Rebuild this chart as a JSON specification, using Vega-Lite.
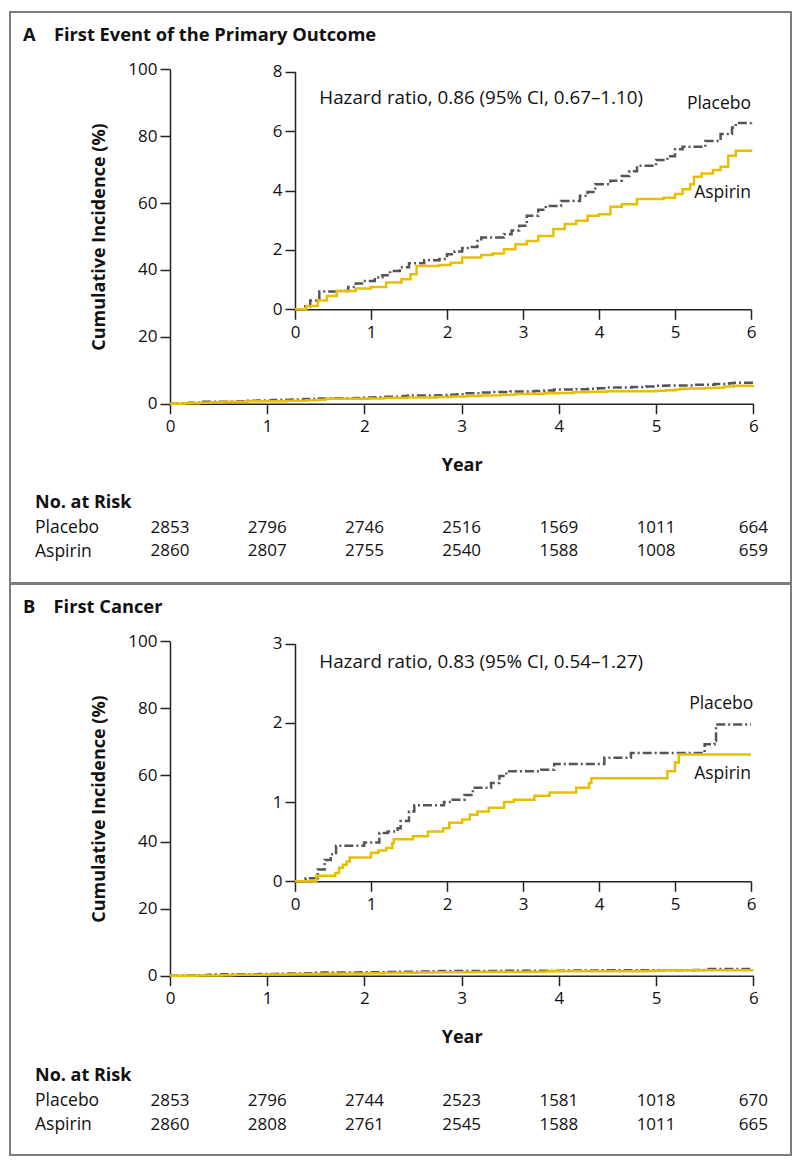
{
  "$schema": "https://vega.github.io/schema/vega-lite/v6.json",
  "background": "white",
  "padding": {"left": 9, "top": 11, "right": 0, "bottom": 0},
  "spacing": -2,
  "datasets": {
    "curvesA": [
      {"group":"Placebo","year":0,"pct":0},{"group":"Placebo","year":0.1,"pct":0.1},{"group":"Placebo","year":0.2,"pct":0.3},{"group":"Placebo","year":0.32,"pct":0.6},{"group":"Placebo","year":0.56,"pct":0.62},{"group":"Placebo","year":0.7,"pct":0.75},{"group":"Placebo","year":0.8,"pct":0.87},{"group":"Placebo","year":0.9,"pct":0.95},{"group":"Placebo","year":1.05,"pct":1.07},{"group":"Placebo","year":1.15,"pct":1.15},{"group":"Placebo","year":1.25,"pct":1.29},{"group":"Placebo","year":1.38,"pct":1.42},{"group":"Placebo","year":1.5,"pct":1.55},{"group":"Placebo","year":1.7,"pct":1.65},{"group":"Placebo","year":1.9,"pct":1.69},{"group":"Placebo","year":2.0,"pct":1.85},{"group":"Placebo","year":2.1,"pct":1.95},{"group":"Placebo","year":2.2,"pct":2.06},{"group":"Placebo","year":2.3,"pct":2.1},{"group":"Placebo","year":2.4,"pct":2.3},{"group":"Placebo","year":2.45,"pct":2.42},{"group":"Placebo","year":2.75,"pct":2.53},{"group":"Placebo","year":2.85,"pct":2.65},{"group":"Placebo","year":2.95,"pct":2.81},{"group":"Placebo","year":3.05,"pct":3.15},{"group":"Placebo","year":3.2,"pct":3.35},{"group":"Placebo","year":3.3,"pct":3.48},{"group":"Placebo","year":3.5,"pct":3.65},{"group":"Placebo","year":3.75,"pct":3.82},{"group":"Placebo","year":3.85,"pct":3.95},{"group":"Placebo","year":3.95,"pct":4.21},{"group":"Placebo","year":4.15,"pct":4.33},{"group":"Placebo","year":4.3,"pct":4.49},{"group":"Placebo","year":4.4,"pct":4.65},{"group":"Placebo","year":4.5,"pct":4.83},{"group":"Placebo","year":4.75,"pct":5.03},{"group":"Placebo","year":4.9,"pct":5.15},{"group":"Placebo","year":5.0,"pct":5.39},{"group":"Placebo","year":5.1,"pct":5.47},{"group":"Placebo","year":5.4,"pct":5.67},{"group":"Placebo","year":5.6,"pct":5.9},{"group":"Placebo","year":5.75,"pct":6.12},{"group":"Placebo","year":5.8,"pct":6.27},{"group":"Placebo","year":6.0,"pct":6.29},
      {"group":"Aspirin","year":0,"pct":0},{"group":"Aspirin","year":0.15,"pct":0.11},{"group":"Aspirin","year":0.3,"pct":0.3},{"group":"Aspirin","year":0.42,"pct":0.45},{"group":"Aspirin","year":0.55,"pct":0.62},{"group":"Aspirin","year":0.8,"pct":0.7},{"group":"Aspirin","year":1.0,"pct":0.75},{"group":"Aspirin","year":1.2,"pct":0.9},{"group":"Aspirin","year":1.4,"pct":1.01},{"group":"Aspirin","year":1.52,"pct":1.18},{"group":"Aspirin","year":1.6,"pct":1.46},{"group":"Aspirin","year":1.9,"pct":1.49},{"group":"Aspirin","year":2.05,"pct":1.57},{"group":"Aspirin","year":2.2,"pct":1.74},{"group":"Aspirin","year":2.45,"pct":1.83},{"group":"Aspirin","year":2.6,"pct":1.88},{"group":"Aspirin","year":2.75,"pct":2.02},{"group":"Aspirin","year":2.9,"pct":2.19},{"group":"Aspirin","year":3.05,"pct":2.3},{"group":"Aspirin","year":3.2,"pct":2.47},{"group":"Aspirin","year":3.4,"pct":2.7},{"group":"Aspirin","year":3.55,"pct":2.87},{"group":"Aspirin","year":3.7,"pct":2.98},{"group":"Aspirin","year":3.85,"pct":3.15},{"group":"Aspirin","year":4.0,"pct":3.2},{"group":"Aspirin","year":4.15,"pct":3.45},{"group":"Aspirin","year":4.3,"pct":3.54},{"group":"Aspirin","year":4.5,"pct":3.71},{"group":"Aspirin","year":4.85,"pct":3.76},{"group":"Aspirin","year":5.0,"pct":3.88},{"group":"Aspirin","year":5.1,"pct":4.04},{"group":"Aspirin","year":5.2,"pct":4.21},{"group":"Aspirin","year":5.25,"pct":4.46},{"group":"Aspirin","year":5.35,"pct":4.57},{"group":"Aspirin","year":5.5,"pct":4.69},{"group":"Aspirin","year":5.6,"pct":4.8},{"group":"Aspirin","year":5.7,"pct":5.17},{"group":"Aspirin","year":5.8,"pct":5.34},{"group":"Aspirin","year":6.0,"pct":5.39}
    ],
    "curvesB": [
      {"group":"Placebo","year":0,"pct":0},{"group":"Placebo","year":0.14,"pct":0.04},{"group":"Placebo","year":0.3,"pct":0.15},{"group":"Placebo","year":0.39,"pct":0.27},{"group":"Placebo","year":0.47,"pct":0.34},{"group":"Placebo","year":0.54,"pct":0.45},{"group":"Placebo","year":0.91,"pct":0.49},{"group":"Placebo","year":1.11,"pct":0.61},{"group":"Placebo","year":1.22,"pct":0.63},{"group":"Placebo","year":1.35,"pct":0.67},{"group":"Placebo","year":1.39,"pct":0.76},{"group":"Placebo","year":1.5,"pct":0.88},{"group":"Placebo","year":1.57,"pct":0.96},{"group":"Placebo","year":1.96,"pct":1.0},{"group":"Placebo","year":2.05,"pct":1.03},{"group":"Placebo","year":2.23,"pct":1.09},{"group":"Placebo","year":2.34,"pct":1.18},{"group":"Placebo","year":2.58,"pct":1.24},{"group":"Placebo","year":2.69,"pct":1.33},{"group":"Placebo","year":2.78,"pct":1.39},{"group":"Placebo","year":3.24,"pct":1.41},{"group":"Placebo","year":3.41,"pct":1.48},{"group":"Placebo","year":4.07,"pct":1.56},{"group":"Placebo","year":4.42,"pct":1.62},{"group":"Placebo","year":5.39,"pct":1.73},{"group":"Placebo","year":5.52,"pct":1.77},{"group":"Placebo","year":5.54,"pct":1.98},{"group":"Placebo","year":6.0,"pct":1.98},
      {"group":"Aspirin","year":0,"pct":0},{"group":"Aspirin","year":0.28,"pct":0.07},{"group":"Aspirin","year":0.53,"pct":0.105},{"group":"Aspirin","year":0.58,"pct":0.17},{"group":"Aspirin","year":0.63,"pct":0.21},{"group":"Aspirin","year":0.68,"pct":0.25},{"group":"Aspirin","year":0.72,"pct":0.3},{"group":"Aspirin","year":1.0,"pct":0.36},{"group":"Aspirin","year":1.1,"pct":0.39},{"group":"Aspirin","year":1.2,"pct":0.42},{"group":"Aspirin","year":1.28,"pct":0.48},{"group":"Aspirin","year":1.3,"pct":0.53},{"group":"Aspirin","year":1.55,"pct":0.57},{"group":"Aspirin","year":1.75,"pct":0.63},{"group":"Aspirin","year":1.95,"pct":0.67},{"group":"Aspirin","year":2.03,"pct":0.74},{"group":"Aspirin","year":2.2,"pct":0.78},{"group":"Aspirin","year":2.3,"pct":0.84},{"group":"Aspirin","year":2.4,"pct":0.88},{"group":"Aspirin","year":2.55,"pct":0.93},{"group":"Aspirin","year":2.75,"pct":1.0},{"group":"Aspirin","year":2.88,"pct":1.03},{"group":"Aspirin","year":3.15,"pct":1.08},{"group":"Aspirin","year":3.35,"pct":1.12},{"group":"Aspirin","year":3.7,"pct":1.18},{"group":"Aspirin","year":3.87,"pct":1.24},{"group":"Aspirin","year":3.9,"pct":1.3},{"group":"Aspirin","year":4.9,"pct":1.39},{"group":"Aspirin","year":5.0,"pct":1.5},{"group":"Aspirin","year":5.05,"pct":1.6},{"group":"Aspirin","year":6.0,"pct":1.6}
    ],
    "riskA": [
      {"group":"Placebo","year":0,"n":2853},{"group":"Placebo","year":1,"n":2796},{"group":"Placebo","year":2,"n":2746},{"group":"Placebo","year":3,"n":2516},{"group":"Placebo","year":4,"n":1569},{"group":"Placebo","year":5,"n":1011},{"group":"Placebo","year":6,"n":664},
      {"group":"Aspirin","year":0,"n":2860},{"group":"Aspirin","year":1,"n":2807},{"group":"Aspirin","year":2,"n":2755},{"group":"Aspirin","year":3,"n":2540},{"group":"Aspirin","year":4,"n":1588},{"group":"Aspirin","year":5,"n":1008},{"group":"Aspirin","year":6,"n":659}
    ],
    "riskB": [
      {"group":"Placebo","year":0,"n":2853},{"group":"Placebo","year":1,"n":2796},{"group":"Placebo","year":2,"n":2744},{"group":"Placebo","year":3,"n":2523},{"group":"Placebo","year":4,"n":1581},{"group":"Placebo","year":5,"n":1018},{"group":"Placebo","year":6,"n":670},
      {"group":"Aspirin","year":0,"n":2860},{"group":"Aspirin","year":1,"n":2808},{"group":"Aspirin","year":2,"n":2761},{"group":"Aspirin","year":3,"n":2545},{"group":"Aspirin","year":4,"n":1588},{"group":"Aspirin","year":5,"n":1011},{"group":"Aspirin","year":6,"n":665}
    ]
  },
  "vconcat": [
    {
      "width": 781, "height": 571,
      "title": {"text": "A\u2003First Event of the Primary Outcome", "anchor": "start", "frame": "group", "font": "Open Sans", "fontSize": 18.3, "fontWeight": "bold", "color": "#111", "baseline": "middle", "offset": -42, "dx": 13},
      "layer": [
        {
          "data": {"name": "curvesA"},
          "mark": {"type": "line", "interpolate": "step-after", "strokeWidth": 2.5},
          "encoding": {
            "x": {"field": "year", "type": "quantitative", "scale": {"domain": [0, 6], "range": [160, 743.3], "nice": false, "zero": false},
                  "axis": {"orient": "bottom", "offset": -179.3, "values": [0,1,2,3,4,5,6], "title": "Year", "titlePadding": 22, "labelPadding": 5, "labelFlush": false}},
            "y": {"field": "pct", "type": "quantitative", "scale": {"domain": [0, 100], "range": [391.7, 57.3], "nice": false, "zero": false},
                  "axis": {"orient": "left", "offset": -160, "values": [0,20,40,60,80,100], "title": "Cumulative Incidence (%)", "titlePadding": 19, "labelPadding": 3}},
            "color": {"field": "group", "type": "nominal", "scale": {"domain": ["Placebo", "Aspirin"], "range": ["#555557", "#e8bf00"]}, "legend": null},
            "strokeDash": {"field": "group", "type": "nominal", "scale": {"domain": ["Placebo", "Aspirin"], "range": [[9, 3, 2, 3], [1, 0]]}, "legend": null}
          }
        },
        {
          "data": {"name": "curvesA"},
          "mark": {"type": "line", "interpolate": "step-after", "strokeWidth": 2.5},
          "encoding": {
            "x": {"field": "year", "type": "quantitative", "scale": {"domain": [0, 6], "range": [285, 741], "nice": false, "zero": false},
                  "axis": {"orient": "bottom", "offset": -273.7, "values": [0,1,2,3,4,5,6], "title": null, "labelPadding": 5, "labelFlush": false}},
            "y": {"field": "pct", "type": "quantitative", "scale": {"domain": [0, 8], "range": [297.3, 59.7], "nice": false, "zero": false},
                  "axis": {"orient": "left", "offset": -285, "values": [0,2,4,6,8], "title": null, "labelPadding": 3}},
            "color": {"field": "group", "type": "nominal", "scale": {"domain": ["Placebo", "Aspirin"], "range": ["#555557", "#e8bf00"]}, "legend": null},
            "strokeDash": {"field": "group", "type": "nominal", "scale": {"domain": ["Placebo", "Aspirin"], "range": [[9, 3, 2, 3], [1, 0]]}, "legend": null}
          }
        },
        {
          "data": {"values": [{}]},
          "mark": {"type": "text", "text": "Placebo", "align": "right", "baseline": "middle", "font": "Open Sans", "fontSize": 17.5, "color": "#111"},
          "encoding": {"x": {"datum": 6, "type": "quantitative", "scale": {"domain": [0, 6], "range": [285, 741]}, "axis": null},
                       "y": {"datum": 6.92, "type": "quantitative", "scale": {"domain": [0, 8], "range": [297.3, 59.7]}, "axis": null}}
        },
        {
          "data": {"values": [{}]},
          "mark": {"type": "text", "text": "Aspirin", "align": "right", "baseline": "middle", "font": "Open Sans", "fontSize": 17.5, "color": "#111"},
          "encoding": {"x": {"datum": 6, "type": "quantitative", "scale": {"domain": [0, 6], "range": [285, 741]}, "axis": null},
                       "y": {"datum": 3.93, "type": "quantitative", "scale": {"domain": [0, 8], "range": [297.3, 59.7]}, "axis": null}}
        },
        {
          "data": {"values": [{}]},
          "mark": {"type": "text", "text": "Hazard ratio, 0.86 (95% CI, 0.67\u20131.10)", "align": "left", "baseline": "middle", "font": "Open Sans", "fontSize": 18.8, "color": "#111"},
          "encoding": {"x": {"datum": 0.32, "type": "quantitative", "scale": {"domain": [0, 6], "range": [285, 741]}, "axis": null},
                       "y": {"datum": 7.1, "type": "quantitative", "scale": {"domain": [0, 8], "range": [297.3, 59.7]}, "axis": null}}
        },
        {
          "data": {"name": "riskA"},
          "mark": {"type": "text", "align": "center", "baseline": "middle", "font": "Open Sans", "fontSize": 17, "color": "#111"},
          "encoding": {
            "x": {"field": "year", "type": "quantitative", "scale": {"domain": [0, 6], "range": [160, 743.3], "nice": false, "zero": false}, "axis": null},
            "y": {"field": "group", "type": "nominal", "scale": {"type": "point", "domain": ["Placebo", "Aspirin"], "range": [515.7, 539], "padding": 0},
                  "axis": {"orient": "left", "offset": -24.5, "domain": false, "ticks": false, "labelAlign": "left", "labelPadding": 0, "labelBaseline": "middle", "labelFontSize": 17.5, "title": "No. at Risk", "titleAngle": 0, "titleAlign": "left", "titleBaseline": "middle", "titleX": 0, "titleY": 490.7}},
            "text": {"field": "n", "type": "nominal"}
          }
        }
      ],
      "resolve": {"scale": {"x": "independent", "y": "independent"}}
    },
    {
      "width": 781, "height": 571,
      "title": {"text": "B\u2003First Cancer", "anchor": "start", "frame": "group", "font": "Open Sans", "fontSize": 18.3, "fontWeight": "bold", "color": "#111", "baseline": "middle", "offset": -42, "dx": 13},
      "layer": [
        {
          "data": {"name": "curvesB"},
          "mark": {"type": "line", "interpolate": "step-after", "strokeWidth": 2.5},
          "encoding": {
            "x": {"field": "year", "type": "quantitative", "scale": {"domain": [0, 6], "range": [160, 743.3], "nice": false, "zero": false},
                  "axis": {"orient": "bottom", "offset": -179.3, "values": [0,1,2,3,4,5,6], "title": "Year", "titlePadding": 22, "labelPadding": 5, "labelFlush": false}},
            "y": {"field": "pct", "type": "quantitative", "scale": {"domain": [0, 100], "range": [391.7, 57.3], "nice": false, "zero": false},
                  "axis": {"orient": "left", "offset": -160, "values": [0,20,40,60,80,100], "title": "Cumulative Incidence (%)", "titlePadding": 19, "labelPadding": 3}},
            "color": {"field": "group", "type": "nominal", "scale": {"domain": ["Placebo", "Aspirin"], "range": ["#555557", "#e8bf00"]}, "legend": null},
            "strokeDash": {"field": "group", "type": "nominal", "scale": {"domain": ["Placebo", "Aspirin"], "range": [[9, 3, 2, 3], [1, 0]]}, "legend": null}
          }
        },
        {
          "data": {"name": "curvesB"},
          "mark": {"type": "line", "interpolate": "step-after", "strokeWidth": 2.5},
          "encoding": {
            "x": {"field": "year", "type": "quantitative", "scale": {"domain": [0, 6], "range": [285, 741], "nice": false, "zero": false},
                  "axis": {"orient": "bottom", "offset": -273.7, "values": [0,1,2,3,4,5,6], "title": null, "labelPadding": 5, "labelFlush": false}},
            "y": {"field": "pct", "type": "quantitative", "scale": {"domain": [0, 3], "range": [297.3, 59.7], "nice": false, "zero": false},
                  "axis": {"orient": "left", "offset": -285, "values": [0,1,2,3], "title": null, "labelPadding": 3}},
            "color": {"field": "group", "type": "nominal", "scale": {"domain": ["Placebo", "Aspirin"], "range": ["#555557", "#e8bf00"]}, "legend": null},
            "strokeDash": {"field": "group", "type": "nominal", "scale": {"domain": ["Placebo", "Aspirin"], "range": [[9, 3, 2, 3], [1, 0]]}, "legend": null}
          }
        },
        {
          "data": {"values": [{}]},
          "mark": {"type": "text", "text": "Placebo", "align": "right", "baseline": "middle", "font": "Open Sans", "fontSize": 17.5, "color": "#111"},
          "encoding": {"x": {"datum": 6.03, "type": "quantitative", "scale": {"domain": [0, 6], "range": [285, 741]}, "axis": null},
                       "y": {"datum": 2.24, "type": "quantitative", "scale": {"domain": [0, 3], "range": [297.3, 59.7]}, "axis": null}}
        },
        {
          "data": {"values": [{}]},
          "mark": {"type": "text", "text": "Aspirin", "align": "right", "baseline": "middle", "font": "Open Sans", "fontSize": 17.5, "color": "#111"},
          "encoding": {"x": {"datum": 6, "type": "quantitative", "scale": {"domain": [0, 6], "range": [285, 741]}, "axis": null},
                       "y": {"datum": 1.35, "type": "quantitative", "scale": {"domain": [0, 3], "range": [297.3, 59.7]}, "axis": null}}
        },
        {
          "data": {"values": [{}]},
          "mark": {"type": "text", "text": "Hazard ratio, 0.83 (95% CI, 0.54\u20131.27)", "align": "left", "baseline": "middle", "font": "Open Sans", "fontSize": 18.8, "color": "#111"},
          "encoding": {"x": {"datum": 0.32, "type": "quantitative", "scale": {"domain": [0, 6], "range": [285, 741]}, "axis": null},
                       "y": {"datum": 2.77, "type": "quantitative", "scale": {"domain": [0, 3], "range": [297.3, 59.7]}, "axis": null}}
        },
        {
          "data": {"name": "riskB"},
          "mark": {"type": "text", "align": "center", "baseline": "middle", "font": "Open Sans", "fontSize": 17, "color": "#111"},
          "encoding": {
            "x": {"field": "year", "type": "quantitative", "scale": {"domain": [0, 6], "range": [160, 743.3], "nice": false, "zero": false}, "axis": null},
            "y": {"field": "group", "type": "nominal", "scale": {"type": "point", "domain": ["Placebo", "Aspirin"], "range": [516.5, 540.5], "padding": 0},
                  "axis": {"orient": "left", "offset": -24.5, "domain": false, "ticks": false, "labelAlign": "left", "labelPadding": 0, "labelBaseline": "middle", "labelFontSize": 17.5, "title": "No. at Risk", "titleAngle": 0, "titleAlign": "left", "titleBaseline": "middle", "titleX": 0, "titleY": 491.3}},
            "text": {"field": "n", "type": "nominal"}
          }
        }
      ],
      "resolve": {"scale": {"x": "independent", "y": "independent"}}
    }
  ],
  "config": {
    "view": {"stroke": "#7d7d7d", "strokeWidth": 2},
    "axis": {"grid": false, "domainColor": "#222", "tickColor": "#222", "domainWidth": 1.5, "tickWidth": 1.5, "tickSize": 10,
             "labelFont": "Open Sans", "labelFontSize": 17, "labelColor": "#111", "titleFont": "Open Sans", "titleFontSize": 18, "titleFontWeight": "bold", "titleColor": "#111"}
  }
}
